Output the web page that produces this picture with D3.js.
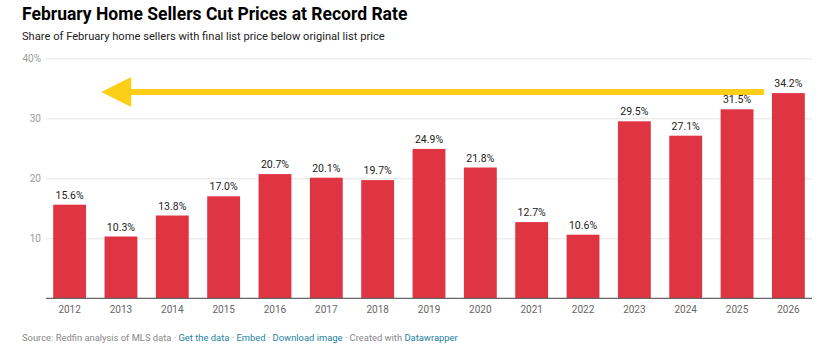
<!DOCTYPE html>
<html><head><meta charset="utf-8">
<script src="https://cdn.jsdelivr.net/npm/d3@7"></script>
<style>
body{margin:0;background:#fff;}
svg{display:block;font-family:Roboto,"Noto Sans",sans-serif;}
</style></head><body>
<svg id="c" width="820" height="355"></svg>
<script>
const years = ["2012","2013","2014","2015","2016","2017","2018","2019","2020","2021","2022","2023","2024","2025","2026"];
const shares = [15.6,10.3,13.8,17.0,20.7,20.1,19.7,24.9,21.8,12.7,10.6,29.5,27.1,31.5,34.2];
const yTicks = [10,20,30,40];
const arrowFromTo = [["2026",34.2],["2012",34.2]];

const svg = d3.select("#c");
const x = d3.scaleBand().domain(years).range([46,812]).paddingInner(0.36).paddingOuter(0.14);
const y = d3.scaleLinear().domain([0,40]).range([298.3,58.3]);

svg.append("text").attr("x",22).attr("y",20).attr("font-size",17.5).attr("font-weight",700).attr("fill","#000")
  .text("February Home Sellers Cut Prices at Record Rate");
svg.append("text").attr("x",22).attr("y",40).attr("font-size",11.15).attr("fill","#222")
  .text("Share of February home sellers with final list price below original list price");

// grid
const yAxis = d3.axisLeft(y).tickValues(yTicks).tickSize(-(812-46)).tickFormat(d=> d===40? "40%": d);
const g = svg.append("g").attr("transform","translate(46,0)").call(yAxis);
g.select(".domain").remove();
g.selectAll(".tick line").attr("stroke","#e5e5e5");
g.selectAll(".tick text").attr("x",-5).attr("fill","#9a9a9a").attr("font-size",10).attr("font-family","Roboto");

// bars
svg.append("g").selectAll("rect").data(years).join("rect")
  .attr("x",d=>x(d)).attr("width",x.bandwidth())
  .attr("y",(d,i)=>y(shares[i])).attr("height",(d,i)=>y(0)-y(shares[i]))
  .attr("fill","#df3442");

svg.append("g").selectAll("text").data(years).join("text")
  .attr("x",d=>x(d)+x.bandwidth()/2).attr("y",(d,i)=>y(shares[i])-6)
  .attr("text-anchor","middle").attr("font-size",10.5).attr("fill","#222")
  .text((d,i)=>shares[i].toFixed(1)+"%");

// x axis
const xAxis = d3.axisBottom(x).tickSize(0).tickPadding(8);
const gx = svg.append("g").attr("transform",`translate(0,${y(0)})`).call(xAxis);
gx.select(".domain").attr("stroke","#666").attr("stroke-width",1.3).attr("d","M46,0H812");
gx.selectAll(".tick text").attr("fill","#666").attr("font-size",10).attr("font-family","Roboto");

// arrow
const ax1 = x("2026")-8, ax0 = x("2012")+48;
const ay = y(arrowFromTo[0][1]) - 1;
svg.append("line").attr("x1",ax0+29).attr("x2",ax1).attr("y1",ay).attr("y2",ay)
  .attr("stroke","#fdce17").attr("stroke-width",6);
svg.append("path").attr("d",`M${ax0},${ay}L${ax0+30},${ay-15}L${ax0+30},${ay+15}Z`).attr("fill","#fdce17");

// footer
const f = svg.append("text").attr("x",22).attr("y",341).attr("font-size",9.4).attr("fill","#888");
const parts = [["Source: Redfin analysis of MLS data · ","#888"],["Get the data","#1d81a2"],[" · ","#888"],["Embed","#1d81a2"],[" · ","#888"],["Download image","#1d81a2"],[" · Created with ","#888"],["Datawrapper","#1d81a2"]];
parts.forEach(p=>f.append("tspan").attr("fill",p[1]).attr("xml:space","preserve").text(p[0]));
</script>
</body></html>
